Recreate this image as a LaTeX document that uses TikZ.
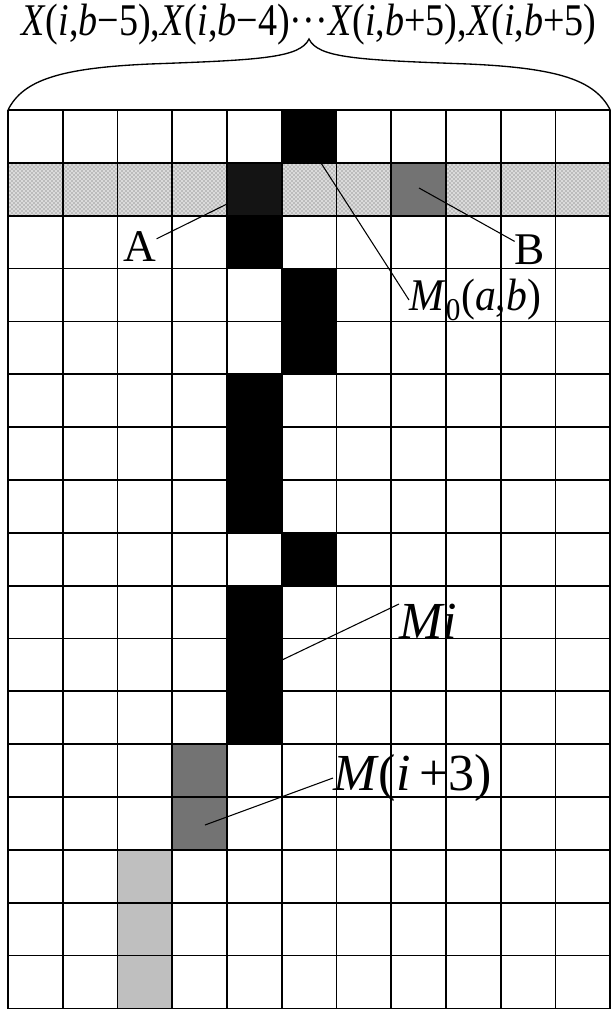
\documentclass[tikz,border=0pt]{standalone}
\usepackage{fontspec}
\setmainfont{Liberation Serif}
\usepackage{tikz}
\usetikzlibrary{patterns}

\tikzstyle{gridline} = [line width=1.3pt]
\tikzstyle{leader}   = [line width=0.8pt]
\tikzstyle{brace}    = [line width=1pt]
\tikzstyle{tag}      = [inner sep=0pt, font=\fontsize{34}{40}\selectfont]
\tikzstyle{bigtag}   = [inner sep=0pt, font=\fontsize{39}{46}\selectfont]
\tikzstyle{toptext}  = [inner sep=0pt, xscale=0.84, font=\fontsize{34}{40}\selectfont]
\tikzstyle{cellblack} = [fill=black]
\tikzstyle{celldark}  = [fill=black!55]
\tikzstyle{celllight} = [fill=black!25]
\tikzstyle{cellband}  = [fill=black!14, postaction={pattern=crosshatch dots, pattern color=black!65}]

% cell (column, row) of the 11 x 17 grid
\newcommand{\fillcell}[3]{\fill[#3] ({8+(#1-1)*54.75},{110+(#2-1)*52.85}) rectangle +(54.75,52.85);}

\begin{document}
\begin{tikzpicture}[x=0.75pt, y=-0.75pt]

\useasboundingbox (0,0) rectangle (613,1009);

% band row
\foreach \c in {1,2,3,4,6,7,9,10,11} {\fillcell{\c}{2}{cellband}}
\fillcell{5}{2}{fill=black!92}
\fillcell{8}{2}{fill=black!55}

% black path
\fillcell{6}{1}{cellblack}
\fillcell{5}{3}{cellblack}
\foreach \r in {4,5,9} {\fillcell{6}{\r}{cellblack}}
\foreach \r in {6,7,8,10,11,12} {\fillcell{5}{\r}{cellblack}}
\foreach \r in {13,14} {\fillcell{4}{\r}{celldark}}
\foreach \r in {15,16,17} {\fillcell{3}{\r}{celllight}}

% grid
\foreach \c in {0,...,11} \draw[gridline] ({8+\c*54.75},110) -- ({8+\c*54.75},1008.5);
\foreach \r in {0,...,17} \draw[gridline] (8,{110+\r*52.85}) -- (610.25,{110+\r*52.85});

\coordinate (gNW) at (8,110);
\coordinate (gNE) at (610.25,110);
\coordinate (tip) at (309,39);

\node (top) [toptext] at (309,25) {\textit{X}(\textit{i},\textit{b}−5),\textit{X}(\textit{i},\textit{b}−4)···\textit{X}(\textit{i},\textit{b}+5),\textit{X}(\textit{i},\textit{b}+5)};

% brace over the grid
\draw[brace] (gNW) .. controls (23,80) and (60,68) .. (150,64)
  .. controls (260,60) and (300,58) .. (tip)
  .. controls (318,58) and (358,60) .. (468,64)
  .. controls (558,68) and (595,80) .. (gNE);

\node (labA) [tag] at (140,247) {A};
\node (labB) [tag] at (530,250) {B};
\node (labM0) [tag, xscale=0.92, anchor=west] at (409,300) {\textit{M}\textsubscript{0}(\textit{a},\textit{b})};
\node (labMi) [bigtag, anchor=north west] at (399,604) {\textit{Mi}};
\node (labMk) [bigtag, anchor=west] at (333,778) {\textit{M}(\textit{i}\,+3)};

\coordinate (pA) at (227,204);
\coordinate (pB) at (419,188);
\coordinate (pM0) at (321,163);
\coordinate (pMi) at (282,660);
\coordinate (pMk) at (205,825);

\draw[leader] (pA) -- (labA);
\draw[leader] (pB) -- (labB);
\draw[leader] (pM0) -- (labM0.west);
\draw[leader] (pMi) -- (labMi.north west);
\draw[leader] (pMk) -- (labMk.west);

\end{tikzpicture}
\end{document}
